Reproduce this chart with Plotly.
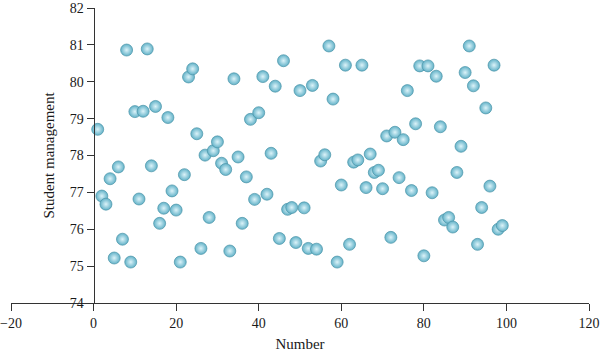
import plotly.graph_objects as go

numbers = list(range(1, 100))
student_management = [
    78.71, 76.90, 76.68, 77.37, 75.22, 77.69, 75.73, 80.86, 75.11, 79.19,
    76.82, 79.20, 80.89, 77.72, 79.33, 76.16, 76.57, 79.03, 77.04, 76.52,
    75.11, 77.48, 80.13, 80.35, 78.59, 75.48, 78.01, 76.32, 78.13, 78.37,
    77.79, 77.62, 75.41, 80.08, 77.96, 76.16, 77.42, 78.98, 76.81, 79.16,
    80.14, 76.95, 78.06, 79.88, 75.75, 80.57, 76.54, 76.59, 75.64, 79.76,
    76.58, 75.48, 79.90, 75.46, 77.85, 78.02, 80.97, 79.53, 75.11, 77.20,
    80.45, 75.59, 77.82, 77.88, 80.45, 77.13, 78.04, 77.54, 77.60, 77.10,
    78.53, 75.78, 78.63, 77.40, 78.43, 79.76, 77.05, 78.86, 80.43, 75.28,
    80.43, 76.99, 80.15, 78.78, 76.25, 76.32, 76.06, 77.54, 78.25, 80.25,
    80.97, 79.89, 75.59, 76.59, 79.29, 77.17, 80.45, 76.00, 76.10,
]

x_ticks = [-20, 0, 20, 40, 60, 80, 100, 120]
y_ticks = [74, 75, 76, 77, 78, 79, 80, 81, 82]

fig = go.Figure()
fig.add_trace(go.Scatter(
    x=numbers, y=student_management, mode="markers",
    marker=dict(size=12, color="#62b2c8",
                gradient=dict(type="radial", color="#dcf3f9"),
                line=dict(color="#4b93a8", width=0.7)),
    showlegend=False,
))

font_family = "Liberation Serif"
fig.update_layout(
    width=600, height=356,
    margin=dict(l=11, r=11, t=8, b=53),
    paper_bgcolor="white", plot_bgcolor="white",
    font=dict(family=font_family, size=14, color="#1a1a1a"),
    xaxis=dict(range=[-20, 120], tickvals=x_ticks, showgrid=False, zeroline=False,
               showline=True, linecolor="#333", linewidth=1,
               ticks="outside", ticklen=7, tickcolor="#333",
               title=dict(text="Number", font=dict(size=15), standoff=8),
               automargin=False),
    yaxis=dict(range=[74, 82], tickvals=y_ticks, showgrid=False, zeroline=False,
               showline=True, linecolor="#333", linewidth=1,
               ticks="outside", ticklen=7, tickcolor="#333",
               anchor="free", position=20 / 140,
               title=dict(text="Student management", font=dict(size=15), standoff=10),
               automargin=False),
)

fig.write_html("out.html", config={"displayModeBar": False},
               post_script="document.body.style.margin='0';document.body.style.padding='0';")
